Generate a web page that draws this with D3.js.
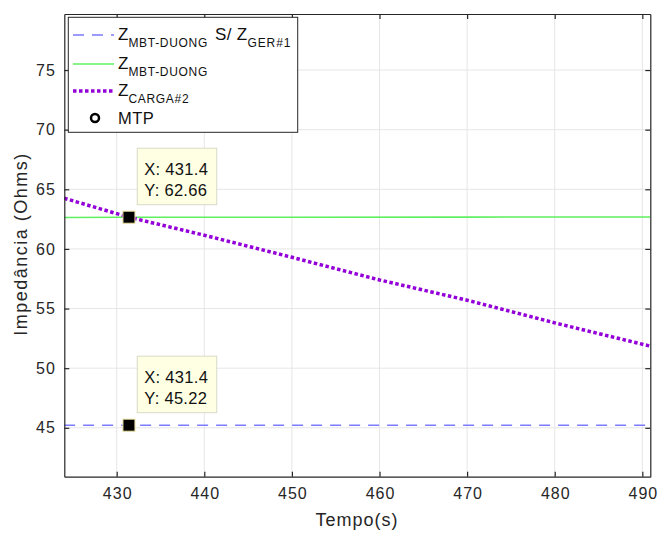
<!DOCTYPE html>
<html><head><meta charset="utf-8">
<script src="https://cdn.jsdelivr.net/npm/d3@7"></script>
<style>body{margin:0;background:#fff}svg{display:block;font-family:"Liberation Sans",Arial,sans-serif}</style>
</head><body><svg id="c" width="659" height="534"></svg>
<script>
const xTicks=[430,440,450,460,470,480,490];
const yTicks=[45,50,55,60,65,70,75];
const zGerT=[424,490.9];
const zGerV=[45.22,45.22];
const zMbtT=[424,431.4,450,470,490.9];
const zMbtV=[62.64,62.66,62.66,62.67,62.68];
const zCargaT=[424,431.4,440,450,460,470,480,490.9];
const zCargaV=[64.25,62.66,61.15,59.3,57.4,55.7,53.8,51.85];
const tips=[{x:431.4,y:62.66,lx:"431.4",ly:"62.66"},{x:431.4,y:45.22,lx:"431.4",ly:"45.22"}];

const svg=d3.select("#c");
const L=64.3,R=650.3,T=14,B=476.7;
const x=d3.scaleLinear().domain([424.02,490.91]).range([L,R]);
const y=d3.scaleLinear().domain([40.9,79.7]).range([B,T]);
const ink="#262626";

// grid
const g=svg.append("g");
g.selectAll(".gx").data(xTicks).join("line").attr("x1",d=>x(d)).attr("x2",d=>x(d)).attr("y1",T).attr("y2",B).attr("stroke","#e6e6e6").attr("stroke-width",1);
g.selectAll(".gy").data(yTicks).join("line").attr("y1",d=>y(d)).attr("y2",d=>y(d)).attr("x1",L).attr("x2",R).attr("stroke","#e6e6e6").attr("stroke-width",1);

// clip
svg.append("clipPath").attr("id","clip").append("rect").attr("x",L).attr("y",T).attr("width",R-L).attr("height",B-T);
const pl=svg.append("g").attr("clip-path","url(#clip)");
const line=(ts,vs)=>d3.line().x((d,i)=>x(ts[i])).y(d=>y(d))(vs);
pl.append("path").attr("d",line(zGerT,zGerV)).attr("fill","none").attr("stroke","#7b7bff").attr("stroke-width",1.6).attr("stroke-dasharray","11,8");
pl.append("path").attr("d",line(zMbtT,zMbtV)).attr("fill","none").attr("stroke","#5ef05e").attr("stroke-width",1.6);
pl.append("path").attr("d",line(zCargaT,zCargaV)).attr("fill","none").attr("stroke","#9400d8").attr("stroke-width",3.5).attr("stroke-dasharray","3.5,2.5");

// axes
const ax=d3.axisBottom(x).tickValues(xTicks).tickSize(-5).tickSizeOuter(0).tickPadding(11);
const gx=svg.append("g").attr("transform",`translate(0,${B})`).call(ax);
const ay=d3.axisLeft(y).tickValues(yTicks).tickSize(-5).tickSizeOuter(0).tickPadding(8.5);
const gy=svg.append("g").attr("transform",`translate(${L},0)`).call(ay);
const axT=d3.axisTop(x).tickValues(xTicks).tickSize(-5).tickSizeOuter(0).tickFormat("");
const gt=svg.append("g").attr("transform",`translate(0,${T})`).call(axT);
const ayR=d3.axisRight(y).tickValues(yTicks).tickSize(-5).tickSizeOuter(0).tickFormat("");
const gr=svg.append("g").attr("transform",`translate(${R},0)`).call(ayR);
[gx,gy,gt,gr].forEach(a=>{a.select(".domain").attr("stroke",ink).attr("stroke-width",1.2);a.selectAll(".tick line").attr("stroke",ink).attr("stroke-width",1.2);a.selectAll("text").attr("fill",ink).attr("font-size",16).attr("letter-spacing",1).attr("font-family","Liberation Sans, Arial, sans-serif");});
gx.selectAll("text").attr("dy","0.71em").attr("dx",0.5);

svg.append("text").attr("x",357).attr("y",526).attr("text-anchor","middle").attr("font-size",18).attr("letter-spacing",1).attr("fill",ink).text("Tempo(s)");
svg.append("text").attr("transform","translate(27,244) rotate(-90)").attr("text-anchor","middle").attr("font-size",18).attr("letter-spacing",1.5).attr("fill",ink).text("Impedância (Ohms)");

// data tips
tips.forEach(t=>{
  const px=x(t.x),py=y(t.y);
  const bw=79.5,bh=56.5;
  const bx=px+8.3,bb=py-12.5,by=bb-bh;
  svg.append("rect").attr("x",bx).attr("y",by).attr("width",bw).attr("height",bh).attr("fill","#ffffe3").attr("stroke","#d9d9c8").attr("stroke-width",1);
  svg.append("text").attr("x",bx+7).attr("y",bb-30).attr("font-size",16.5).attr("letter-spacing",0.3).attr("fill","#111").text("X: "+t.lx);
  svg.append("text").attr("x",bx+7).attr("y",bb-8.5).attr("font-size",16.5).attr("letter-spacing",0.3).attr("fill","#111").text("Y: "+t.ly);
  svg.append("rect").attr("x",px-6).attr("y",py-6).attr("width",12).attr("height",12).attr("fill","#000").attr("stroke","#e8e0a0").attr("stroke-width",1);
});

// legend
const lg=svg.append("g");
lg.append("rect").attr("x",68.3).attr("y",17.3).attr("width",229.4).attr("height",115).attr("fill","#fff").attr("stroke",ink).attr("stroke-width",1);
const rows=[35,64,91,118];
lg.append("line").attr("x1",73).attr("x2",114).attr("y1",rows[0]).attr("y2",rows[0]).attr("stroke","#7b7bff").attr("stroke-width",1.6).attr("stroke-dasharray","11,8");
lg.append("line").attr("x1",73).attr("x2",114).attr("y1",rows[1]).attr("y2",rows[1]).attr("stroke","#5ef05e").attr("stroke-width",1.6);
lg.append("line").attr("x1",73).attr("x2",114).attr("y1",rows[2]).attr("y2",rows[2]).attr("stroke","#9400d8").attr("stroke-width",3.5).attr("stroke-dasharray","3.5,2.5");
lg.append("circle").attr("cx",95).attr("cy",rows[3]).attr("r",4).attr("fill","none").attr("stroke","#000").attr("stroke-width",2.5);
function zlabel(yy,sub,extra){
  const t=lg.append("text").attr("x",118).attr("y",yy+5).attr("font-size",17).attr("fill","#111");
  t.append("tspan").text("Z");
  t.append("tspan").attr("font-size",12).attr("dy",7).attr("letter-spacing",0.7).text(sub);
  if(extra){t.append("tspan").attr("dy",-7).attr("dx",2).attr("letter-spacing",0.3).text(" S/ Z");t.append("tspan").attr("font-size",12).attr("dy",7).attr("letter-spacing",0.9).text(extra);}
}
zlabel(rows[0],"MBT-DUONG","GER#1");
zlabel(rows[1],"MBT-DUONG");
zlabel(rows[2],"CARGA#2");
lg.append("text").attr("x",118).attr("y",rows[3]+5.5).attr("font-size",16.5).attr("letter-spacing",0.5).attr("fill","#111").text("MTP");
</script></body></html>
